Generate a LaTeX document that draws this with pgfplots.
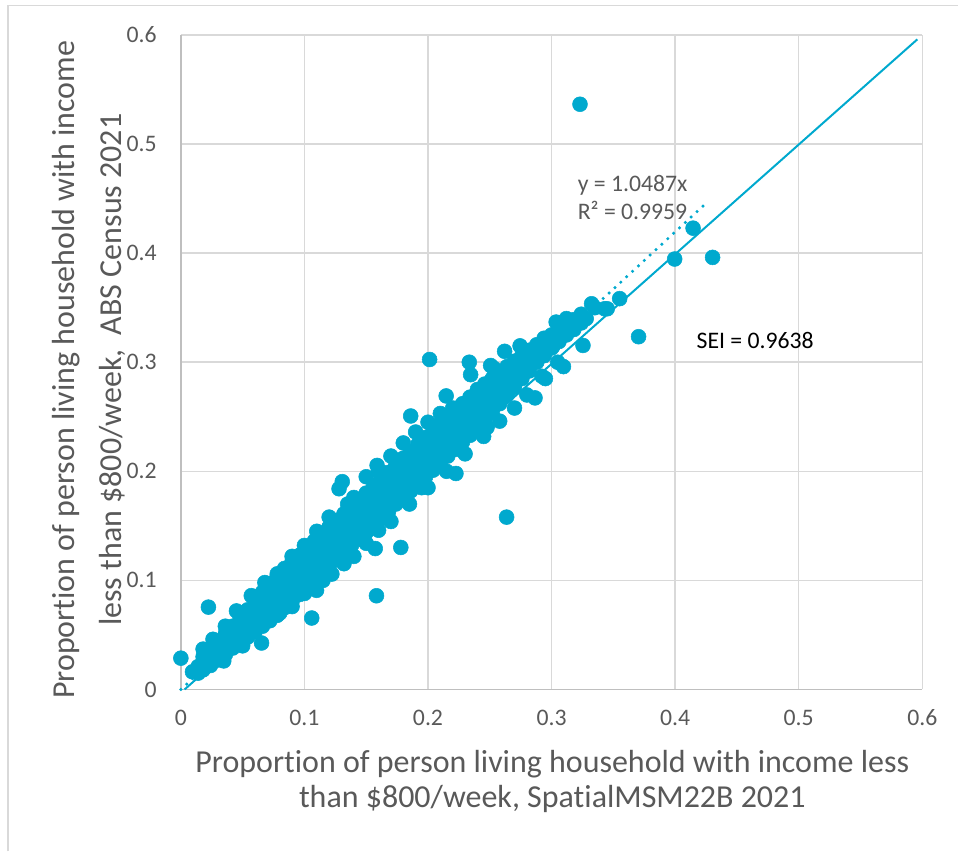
\documentclass[border=0pt]{standalone}
\usepackage{pgfplots}
\pgfplotsset{compat=1.18}
\usepackage{fontspec}
\setmainfont{Carlito}[Ligatures=NoCommon]
\definecolor{mk}{RGB}{0,169,206}
\definecolor{txt}{RGB}{89,89,89}
\definecolor{grd}{RGB}{217,217,217}
\definecolor{axl}{RGB}{191,191,191}
\newcommand\tickfont{\fontsize{17.8pt}{21pt}\selectfont}
\newcommand\labfont{\fontsize{24pt}{36pt}\selectfont}
\newcommand\xlabfont{\fontsize{24pt}{26.5pt}\selectfont}
\begin{document}
\begin{tikzpicture}
\begin{axis}[
  at={(0,0)}, anchor=south west,
  scale only axis, width=556.5pt, height=491.25pt,
  xmin=0, xmax=0.6, ymin=0, ymax=0.6,
  xtick={0,0.1,0.2,0.3,0.4,0.5,0.6},
  ytick={0,0.1,0.2,0.3,0.4,0.5,0.6},
  grid=major, major grid style={grd, line width=1.1pt},
  axis x line*=bottom, axis y line*=left,
  axis line style={axl, line width=1.1pt, -},
  major tick length=0pt,
  clip=false,
  tick label style={font=\tickfont, text=txt},
  /pgf/number format/assume math mode=true,
  /pgf/number format/fixed,
  xticklabel style={anchor=north, inner sep=0pt, yshift=-15pt},
  yticklabel style={anchor=east, inner sep=0pt, xshift=-18pt},
  xlabel={Proportion of person living household with income less\\than \$800/week, SpatialMSM22B 2021},
  ylabel={Proportion of person living household with income\\less than \$800/week,~ ABS Census 2021},
  xlabel style={at={(axis description cs:0.501,-0.1405)}, anchor=center, align=center, font=\xlabfont, text=txt},
  ylabel style={at={(axis description cs:-0.124,0.4885)}, anchor=center, align=center, font=\labfont, text=txt},
]
\addplot[only marks, mark=*, mark size=5.6pt, mark options={draw=mk, fill=mk}] coordinates {
(0.014,0.015)(0.014,0.021)
(0.018,0.018)(0.018,0.024)(0.018,0.030)
(0.024,0.022)(0.024,0.029)(0.024,0.036)
(0.030,0.027)(0.030,0.036)(0.030,0.044)
(0.036,0.032)(0.036,0.042)(0.036,0.051)
(0.042,0.038)(0.042,0.048)(0.042,0.058)
(0.048,0.043)(0.048,0.055)(0.048,0.066)
(0.054,0.048)(0.054,0.058)(0.054,0.064)(0.054,0.073)
(0.060,0.053)(0.060,0.060)(0.060,0.067)(0.060,0.075)(0.060,0.082)
(0.066,0.058)(0.066,0.066)(0.066,0.074)(0.066,0.081)(0.066,0.089)
(0.072,0.063)(0.072,0.072)(0.072,0.080)(0.072,0.088)(0.072,0.097)
(0.078,0.068)(0.078,0.077)(0.078,0.086)(0.078,0.095)(0.078,0.104)
(0.084,0.075)(0.084,0.084)(0.084,0.093)(0.084,0.102)(0.084,0.111)
(0.090,0.081)(0.090,0.090)(0.090,0.099)(0.090,0.108)(0.090,0.117)
(0.096,0.087)(0.096,0.096)(0.096,0.105)(0.096,0.114)(0.096,0.123)
(0.102,0.094)(0.102,0.103)(0.102,0.112)(0.102,0.121)(0.102,0.130)
(0.108,0.100)(0.108,0.109)(0.108,0.118)(0.108,0.127)(0.108,0.136)
(0.114,0.106)(0.114,0.115)(0.114,0.124)(0.114,0.133)(0.114,0.142)
(0.120,0.113)(0.120,0.122)(0.120,0.131)(0.120,0.140)(0.120,0.149)
(0.126,0.119)(0.126,0.128)(0.126,0.137)(0.126,0.146)(0.126,0.155)
(0.132,0.125)(0.132,0.134)(0.132,0.143)(0.132,0.152)(0.132,0.161)
(0.138,0.132)(0.138,0.141)(0.138,0.150)(0.138,0.159)(0.138,0.168)
(0.144,0.138)(0.144,0.147)(0.144,0.156)(0.144,0.165)(0.144,0.174)
(0.150,0.144)(0.150,0.153)(0.150,0.162)(0.150,0.171)(0.150,0.180)
(0.156,0.151)(0.156,0.160)(0.156,0.169)(0.156,0.178)(0.156,0.187)
(0.162,0.157)(0.162,0.166)(0.162,0.175)(0.162,0.184)(0.162,0.193)
(0.168,0.163)(0.168,0.172)(0.168,0.181)(0.168,0.190)(0.168,0.199)
(0.174,0.170)(0.174,0.179)(0.174,0.188)(0.174,0.197)(0.174,0.206)
(0.180,0.176)(0.180,0.185)(0.180,0.194)(0.180,0.203)(0.180,0.212)
(0.186,0.182)(0.186,0.191)(0.186,0.200)(0.186,0.209)(0.186,0.218)
(0.192,0.189)(0.192,0.198)(0.192,0.207)(0.192,0.216)(0.192,0.225)
(0.198,0.195)(0.198,0.204)(0.198,0.213)(0.198,0.222)(0.198,0.231)
(0.204,0.201)(0.204,0.210)(0.204,0.219)(0.204,0.228)(0.204,0.237)
(0.210,0.208)(0.210,0.217)(0.210,0.226)(0.210,0.235)(0.210,0.244)
(0.216,0.214)(0.216,0.223)(0.216,0.232)(0.216,0.241)(0.216,0.250)
(0.222,0.220)(0.222,0.229)(0.222,0.238)(0.222,0.247)(0.222,0.256)
(0.228,0.227)(0.228,0.236)(0.228,0.245)(0.228,0.254)(0.228,0.262)
(0.234,0.233)(0.234,0.242)(0.234,0.251)(0.234,0.260)(0.234,0.268)
(0.240,0.239)(0.240,0.248)(0.240,0.257)(0.240,0.266)(0.240,0.275)
(0.246,0.247)(0.246,0.255)(0.246,0.264)(0.246,0.272)(0.246,0.280)
(0.252,0.254)(0.252,0.262)(0.252,0.270)(0.252,0.278)(0.252,0.285)
(0.258,0.262)(0.258,0.269)(0.258,0.276)(0.258,0.283)(0.258,0.291)
(0.264,0.270)(0.264,0.276)(0.264,0.283)(0.264,0.289)(0.264,0.296)
(0.270,0.277)(0.270,0.283)(0.270,0.289)(0.270,0.295)(0.270,0.301)
(0.276,0.285)(0.276,0.290)(0.276,0.295)(0.276,0.300)(0.276,0.306)
(0.282,0.292)(0.282,0.297)(0.282,0.302)(0.282,0.306)(0.282,0.311)
(0.288,0.300)(0.288,0.304)(0.288,0.308)(0.288,0.312)(0.288,0.316)
(0.294,0.306)(0.294,0.310)(0.294,0.314)(0.294,0.318)(0.294,0.322)
(0.300,0.313)(0.300,0.317)(0.300,0.321)(0.300,0.325)
(0.306,0.319)(0.306,0.323)(0.306,0.327)(0.306,0.331)
(0.312,0.325)(0.312,0.333)(0.312,0.340)
(0.318,0.331)(0.318,0.339)
(0.324,0.336)(0.324,0.344)
(0.110,0.145)(0.100,0.132)(0.090,0.122)(0.078,0.106)(0.068,0.098)
(0.057,0.086)(0.045,0.072)(0.036,0.058)(0.026,0.046)(0.018,0.037)
(0.120,0.158)(0.140,0.176)(0.170,0.214)(0.180,0.226)(0.190,0.236)
(0.200,0.245)(0.210,0.253)(0.220,0.258)(0.230,0.262)(0.240,0.270)
(0.135,0.170)(0.160,0.200)
(0.050,0.040)(0.080,0.070)(0.090,0.076)(0.100,0.088)(0.115,0.100)
(0.140,0.122)(0.150,0.134)(0.160,0.146)(0.170,0.154)(0.185,0.170)
(0.200,0.185)(0.215,0.200)(0.230,0.216)(0.245,0.232)(0.258,0.246)
(0.270,0.258)(0.280,0.270)(0.295,0.285)(0.305,0.300)
(0.335,0.350)(0.328,0.340)(0.318,0.330)(0.310,0.325)(0.320,0.336)(0.345,0.349)
(0.323,0.5365)(0.4145,0.4229)(0.3996,0.3946)(0.4303,0.3961)
(0.3551,0.3583)(0.3704,0.3234)(0.3324,0.3536)(0.343,0.349)
(0.3037,0.3368)(0.316,0.334)(0.3254,0.3154)(0.3096,0.296)
(0.301,0.3145)(0.2745,0.315)(0.262,0.310)(0.2334,0.300)
(0.2345,0.2886)(0.2013,0.3025)(0.2532,0.2945)(0.2507,0.297)
(0.2866,0.2673)(0.2923,0.2871)(0.2147,0.2691)(0.186,0.2507)
(0.2226,0.198)(0.2636,0.158)(0.178,0.1302)(0.1573,0.1292)
(0.1583,0.0859)(0.1059,0.0655)(0.1098,0.0909)(0.1222,0.1058)
(0.132,0.1153)(0.0223,0.0755)(0.0,0.0287)(0.0653,0.0426)
(0.0347,0.0262)(0.0094,0.0162)(0.150,0.195)(0.128,0.184)
(0.1306,0.1905)(0.1588,0.2054)(0.1949,0.185)(0.2478,0.2403)
};
\addplot[mk, line width=1.5pt] coordinates {(0.003,0) (0.596,0.596)};
\addplot[mk, line width=2.6pt, line cap=round, dash pattern=on 0pt off 6pt] coordinates {(0,0) (0.427,0.4478)};
\node[anchor=west, inner sep=0pt, text=txt, font=\tickfont] at (axis cs:0.321,0.4626) {y = 1.0487x};
\node[anchor=west, inner sep=0pt, text=txt, font=\tickfont] at (axis cs:0.321,0.4388) {R² = 0.9959};
\node[anchor=west, inner sep=0pt, text=black, font=\tickfont] at (axis cs:0.4172,0.3197) {SEI = 0.9638};
\end{axis}
\draw[grd, line width=1.1pt] (-129.75pt,-121.5pt) -- (-129.75pt,513.4pt) -- (583.5pt,513.4pt);
\useasboundingbox (-135.75pt,-121.5pt) rectangle (583.5pt,517.5pt);
\end{tikzpicture}
\end{document}
